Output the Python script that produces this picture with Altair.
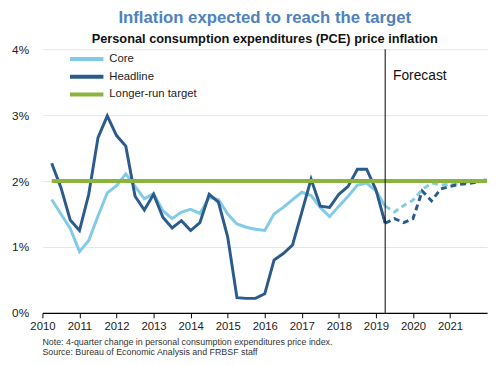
import altair as alt
import pandas as pd

# quarterly observations, 2010Q1 .. 2019Q1 (plotted at quarter end)
hist_years = [2010]*4 + [2011]*4 + [2012]*4 + [2013]*4 + [2014]*4 + [2015]*4 + [2016]*4 + [2017]*4 + [2018]*4 + [2019]
hist_quarters = [1, 2, 3, 4]*9 + [1]
headline_hist = [2.27, 1.90, 1.41, 1.25, 1.80, 2.66, 2.99, 2.69, 2.53, 1.77, 1.56, 1.80,
                 1.45, 1.29, 1.40, 1.25, 1.37, 1.80, 1.68, 1.15, 0.23, 0.22, 0.22, 0.29,
                 0.80, 0.90, 1.03, 1.53, 2.03, 1.62, 1.60, 1.80, 1.92, 2.18, 2.18, 1.87, 1.36]
core_hist = [1.72, 1.50, 1.28, 0.93, 1.10, 1.47, 1.82, 1.93, 2.11, 1.92, 1.73, 1.81,
             1.55, 1.43, 1.53, 1.57, 1.51, 1.75, 1.72, 1.50, 1.35, 1.30, 1.27, 1.25,
             1.50, 1.60, 1.72, 1.83, 1.78, 1.60, 1.46, 1.62, 1.77, 1.94, 1.97, 1.85, 1.62]

# forecast, 2019Q1 .. 2021Q4
fc_years = [2019]*4 + [2020]*4 + [2021]*4
fc_quarters = [1, 2, 3, 4]*3
headline_fc = [1.36, 1.43, 1.37, 1.43, 1.85, 1.70, 1.88, 1.92, 1.95, 1.96, 1.99, 2.02]
core_fc = [1.62, 1.53, 1.63, 1.71, 1.87, 1.97, 1.94, 1.95, 1.96, 1.98, 2.00, 2.02]

target_value = 2.0
target_span = [2010.25, 2022.0]
forecast_start = 2019.25

series_names = ["Core", "Headline", "Longer-run target"]
series_colors = ["#82cbe8", "#2a5b8c", "#8bb43c"]
x_ticks = list(range(2010, 2022))
y_ticks = [0, 1, 2, 3, 4]

def qx(years, quarters):
    return [y + q / 4 for y, q in zip(years, quarters)]

core_df = pd.DataFrame({"x": qx(hist_years, hist_quarters), "v": core_hist, "series": "Core"})
head_df = pd.DataFrame({"x": qx(hist_years, hist_quarters), "v": headline_hist, "series": "Headline"})
core_fc_df = pd.DataFrame({"x": qx(fc_years, fc_quarters), "v": core_fc})
head_fc_df = pd.DataFrame({"x": qx(fc_years, fc_quarters), "v": headline_fc})
target_df = pd.DataFrame({"x": target_span, "v": [target_value]*2, "series": "Longer-run target"})
fc_df = pd.DataFrame({"x": [forecast_start], "y0": [0], "y1": [4], "ty": [3.6], "label": ["Forecast"]})
note_df = pd.DataFrame({"t": [0]})

FONT = "Liberation Sans"

xscale = alt.Scale(domain=[2010, 2022], nice=False)
yscale = alt.Scale(domain=[0, 4], nice=False)
cscale = alt.Scale(domain=series_names, range=series_colors)

X = alt.X("x:Q", scale=xscale, title=None,
          axis=alt.Axis(values=x_ticks, format="d", grid=False, labelFlush=False,
                        domainColor="#000000", domainWidth=1.5, tickColor="#000000",
                        tickSize=5, labelPadding=3, labelFontSize=11.5, labelColor="#222222",
                        labelFont=FONT))
Y = alt.Y("v:Q", scale=yscale, title=None,
          axis=alt.Axis(values=y_ticks, labelExpr="datum.value + '%'", domain=False, ticks=False,
                        gridColor="#e6e6e6", gridWidth=1, labelPadding=14, labelFontSize=12,
                        labelColor="#222222", labelFont=FONT))

legend = alt.Legend(title=None, orient="none", legendX=26, legendY=2, symbolType="stroke",
                    symbolSize=1156, symbolStrokeWidth=4, clipHeight=16, rowPadding=2,
                    labelOffset=4, labelFontSize=11.5, labelColor="#222222", labelFont=FONT)
C = alt.Color("series:N", scale=cscale, legend=legend)

core_line = alt.Chart(core_df).mark_line(strokeWidth=3).encode(x=X, y=Y, color=C)
head_line = alt.Chart(head_df).mark_line(strokeWidth=3).encode(x=X, y=Y, color=C)
core_fc_line = alt.Chart(core_fc_df).mark_line(strokeWidth=3, strokeDash=[6, 4]).encode(
    x=X, y=Y, color=alt.value(series_colors[0]))
head_fc_line = alt.Chart(head_fc_df).mark_line(strokeWidth=3, strokeDash=[6, 4]).encode(
    x=X, y=Y, color=alt.value(series_colors[1]))
target_line = alt.Chart(target_df).mark_line(strokeWidth=4).encode(x=X, y=Y, color=C)

fc_rule = alt.Chart(fc_df).mark_rule(color="#000000", strokeWidth=1).encode(
    x=alt.X("x:Q", scale=xscale), y=alt.Y("y0:Q", scale=yscale), y2="y1:Q")
fc_text = alt.Chart(fc_df).mark_text(align="left", baseline="middle", dx=8, fontSize=14,
                                     font=FONT, color="#111111").encode(
    x=alt.X("x:Q", scale=xscale), y=alt.Y("ty:Q", scale=yscale), text="label:N")

notes = alt.Chart(note_df).mark_text(align="left", baseline="top", fontSize=9, lineHeight=9.5,
                                     font=FONT, color="#333333").encode(
    x=alt.value(0), y=alt.value(294),
    text=alt.value(["Note: 4-quarter change in personal consumption expenditures price index.",
                    "Source: Bureau of Economic Analysis and FRBSF staff"]))

chart = alt.layer(core_line, head_line, core_fc_line, head_fc_line, target_line,
                  fc_rule, fc_text, notes).properties(
    width=452, height=268,
    autosize=alt.AutoSizeParams(type="none"),
    padding={"left": 35, "top": 39, "right": 5, "bottom": 48},
    title=alt.TitleParams(
        text="Inflation expected to reach the target",
        subtitle="Personal consumption expenditures (PCE) price inflation",
        anchor="middle", frame="group", font=FONT, fontSize=17, fontWeight="bold",
        color="#4f81c0", subtitleFont=FONT, subtitleFontSize=13, subtitleFontWeight="bold",
        subtitleColor="#111111", subtitlePadding=7, offset=-4)
).configure_view(stroke=None)

chart.save("out.html", embed_options={"renderer": "svg", "actions": False})
